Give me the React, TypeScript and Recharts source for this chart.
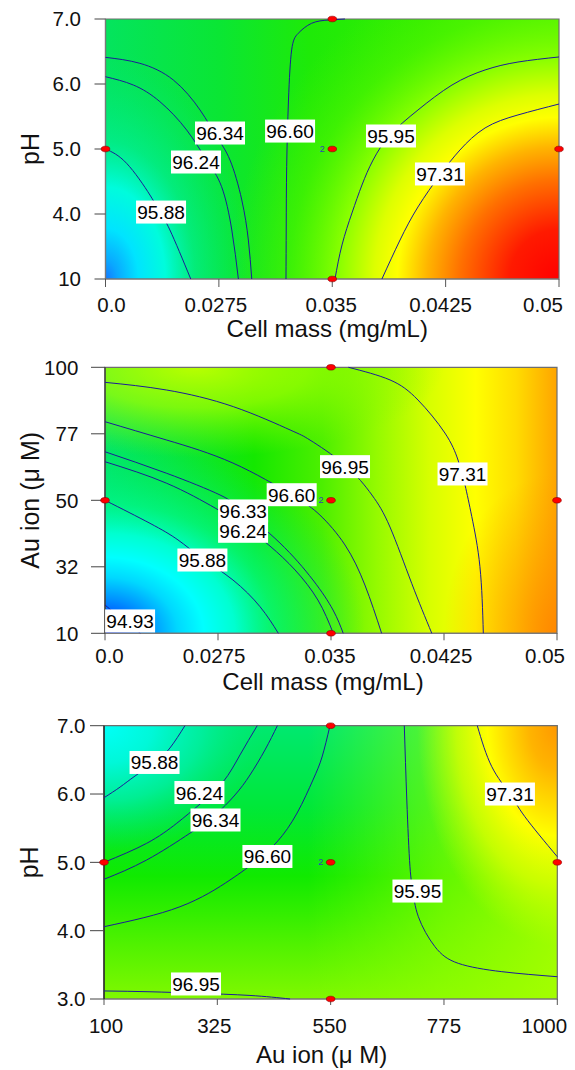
import React from 'react';
import { ScatterChart, Scatter, XAxis, YAxis, ReferenceArea } from 'recharts';

// factors are plotted in coded units (-1 .. 1); tick labels are the printed levels
const codedTicks = [-1, -0.5, 0, 0.5, 1];
const cellMassLabels = ['0.0', '0.0275', '0.035', '0.0425', '0.05'];
const phLabelsTop = ['10', '4.0', '5.0', '6.0', '7.0'];
const auLabelsY = ['10', '32', '50', '77', '100'];
const auLabelsX = ['100', '325', '550', '775', '1000'];
const phLabels = ['3.0', '4.0', '5.0', '6.0', '7.0'];

// design points, n = replicates at the centre
const designPts = [
  { x: -1, y: 0 },
  { x: 0, y: 1 },
  { x: 0, y: 0, n: '2' },
  { x: 0, y: -1 },
  { x: 1, y: 0 },
];

type Pt = [number, number];

// panel 1: cell mass (x) vs pH (y)
const p1c9588: Pt[] = [[-1, 0], [-0.907, -0.11], [-0.804, -0.354], [-0.76, -0.485], [-0.716, -0.623], [-0.624, -1]];
const p1c9624: Pt[] = [[-1, 0.556], [-0.877, 0.492], [-0.76, 0.364], [-0.642, 0.146], [-0.554, -0.085], [-0.488, -0.29], [-0.443, -0.623], [-0.414, -1]];
const p1c9634: Pt[] = [[-1, 0.705], [-0.848, 0.659], [-0.701, 0.531], [-0.583, 0.3], [-0.51, 0.095], [-0.451, -0.085], [-0.399, -0.392], [-0.37, -0.7], [-0.355, -1]];
const p1c9660: Pt[] = [[-0.204, -1], [-0.203, -0.6], [-0.201, -0.136], [-0.193, 0.377], [-0.179, 0.762], [-0.15, 0.89], [-0.091, 0.967], [-0.017, 0.992], [0.056, 1]];
const p1c9595: Pt[] = [[0.012, -1], [0.043, -0.738], [0.087, -0.492], [0.131, -0.277], [0.18, -0.085], [0.255, 0.108], [0.378, 0.3], [0.528, 0.492], [0.674, 0.608], [0.819, 0.669], [1, 0.708]];
const p1c9731: Pt[] = [[0.219, -1], [0.299, -0.7], [0.378, -0.446], [0.475, -0.2], [0.563, -0.008], [0.674, 0.162], [0.819, 0.262], [1, 0.346]];
const p1Labels = [
  { x: -0.755, y: -0.485, v: '95.88' },
  { x: -0.601, y: -0.1, v: '96.24' },
  { x: -0.495, y: 0.123, v: '96.34' },
  { x: -0.186, y: 0.138, v: '96.60' },
  { x: 0.259, y: 0.1, v: '95.95' },
  { x: 0.475, y: -0.192, v: '97.31' },
];

// panel 2: cell mass (x) vs Au ion (y)
const p2c9695: Pt[] = [[-1, 0.887], [-0.727, 0.829], [-0.432, 0.704], [-0.181, 0.529], [-0.093, 0.453], [0.062, 0.265], [0.181, 0.04], [0.261, -0.201], [0.357, -0.624], [0.446, -1]];
const p2c9731: Pt[] = [[0.077, 1], [0.261, 0.905], [0.385, 0.754], [0.504, 0.506], [0.562, 0.303], [0.593, 0.115], [0.623, -0.123], [0.659, -0.499], [0.674, -1]];
const p2c9660: Pt[] = [[-1, 0.591], [-0.727, 0.453], [-0.434, 0.28], [-0.173, 0.04], [-0.049, -0.111], [0.062, -0.336], [0.15, -0.637], [0.224, -1]];
const p2c9633: Pt[] = [[-1, 0.365], [-0.727, 0.203], [-0.491, 0.04], [-0.389, -0.08], [-0.226, -0.321], [-0.08, -0.599], [0.009, -0.825], [0.054, -1]];
const p2c9624: Pt[] = [[-1, 0.29], [-0.727, 0.128], [-0.513, -0.058], [-0.389, -0.186], [-0.27, -0.344], [-0.159, -0.524], [-0.058, -0.75], [0.01, -1]];
const p2c9588: Pt[] = [[-1, 0], [-0.801, -0.173], [-0.677, -0.298], [-0.571, -0.434], [-0.434, -0.599], [-0.314, -0.8], [-0.233, -1]];
const p2c9493: Pt[] = [[-1, -0.787], [-0.956, -0.847], [-0.898, -0.915], [-0.845, -1]];
const p2Labels = [
  { x: 0.062, y: 0.253, v: '96.95' },
  { x: 0.582, y: 0.198, v: '97.31' },
  { x: -0.174, y: 0.042, v: '96.60' },
  { x: -0.389, y: -0.08, v: '96.33' },
  { x: -0.389, y: -0.233, v: '96.24' },
  { x: -0.569, y: -0.449, v: '95.88' },
  { x: -0.889, y: -0.907, v: '94.93' },
];

// panel 3: Au ion (x) vs pH (y)
const p3c9588: Pt[] = [[-1, 0.473], [-0.929, 0.551], [-0.863, 0.632], [-0.775, 0.734], [-0.709, 0.837], [-0.643, 1]];
const p3c9624: Pt[] = [[-1, 0], [-0.812, 0.139], [-0.679, 0.286], [-0.576, 0.427], [-0.475, 0.588], [-0.4, 0.786], [-0.324, 1]];
const p3c9634: Pt[] = [[-1, -0.124], [-0.812, 0.017], [-0.621, 0.213], [-0.51, 0.347], [-0.422, 0.493], [-0.356, 0.639], [-0.29, 0.822], [-0.235, 1]];
const p3c9660: Pt[] = [[-1, -0.471], [-0.665, -0.325], [-0.444, -0.129], [-0.334, 0.003], [-0.237, 0.149], [-0.148, 0.361], [-0.078, 0.603], [-0.038, 0.771], [-0.003, 1]];
const p3c9695: Pt[] = [[-1, -0.941], [-0.797, -0.947], [-0.591, -0.958], [-0.356, -0.974], [-0.179, -1]];
const p3c9595: Pt[] = [[0.325, 1], [0.336, 0.456], [0.35, -0.032], [0.363, -0.21], [0.387, -0.398], [0.46, -0.617], [0.563, -0.739], [0.755, -0.8], [1, -0.837]];
const p3c9731: Pt[] = [[0.647, 1], [0.711, 0.7], [0.791, 0.5], [0.857, 0.334], [1, 0.041]];
const p3Labels = [
  { x: -0.777, y: 0.731, v: '95.88' },
  { x: -0.579, y: 0.511, v: '96.24' },
  { x: -0.508, y: 0.31, v: '96.34' },
  { x: -0.279, y: 0.043, v: '96.60' },
  { x: -0.594, y: -0.89, v: '96.95' },
  { x: 0.383, y: -0.21, v: '95.95' },
  { x: 0.791, y: 0.5, v: '97.31' },
];

const LINE = '#1c1c98';
const toPts = (c: Pt[]) => c.map(([x, y]) => ({ x, y }));
const idx = (v: number) => Math.round((v + 1) * 2);

const LabelBox = (p: any) => (
  <g>
    <rect x={p.cx - 25} y={p.cy - 11.5} width={50} height={23} fill="#fff" />
    <text x={p.cx} y={p.cy + 7} textAnchor="middle" fontSize={19} fill="#000">
      {p.payload.v}
    </text>
  </g>
);

const DesignDot = (p: any) => (
  <g>
    <ellipse cx={p.cx} cy={p.cy} rx={4.3} ry={2.8} fill="#ff0000" stroke="#8a0000" strokeWidth={0.6} />
    {p.payload.n ? (
      <text x={p.cx - 10} y={p.cy + 3} textAnchor="middle" fontSize={9} fill="#2f44b8">
        {p.payload.n}
      </text>
    ) : null}
  </g>
);

type PanelProps = {
  top: number;
  height: number;
  margin: { top: number; right: number; bottom: number; left: number };
  defs: React.ReactNode;
  fills: string[];
  contours: Pt[][];
  labels: { x: number; y: number; v: string }[];
  xLabels: string[];
  yLabels: string[];
  xTitle: string;
  yTitle: string;
  xDx: number[];
  xTickSize: number;
  xTickMargin: number;
  yTickSize: number;
  yTickMargin: number;
  xTitleOffset: number;
  xTitleDx: number;
  yTitleDx: number;
  yAxisColor: string;
};

const Panel = (pp: PanelProps) => (
  <div style={{ position: 'absolute', left: 0, top: pp.top }}>
    <ScatterChart width={575} height={pp.height} margin={pp.margin}>
      {pp.defs}
      {pp.fills.map((id) => (
        <ReferenceArea key={id} x1={-1} x2={1} y1={-1} y2={1} fill={`url(#${id})`} fillOpacity={1} stroke="none" />
      ))}
      <ReferenceArea x1={-1} x2={1} y1={-1} y2={1} fill="none" fillOpacity={0} stroke="#6e6e6e" strokeWidth={1.2} />
      <XAxis
        type="number"
        dataKey="x"
        domain={[-1, 1]}
        ticks={codedTicks}
        interval={0}
        height={70}
        tickSize={pp.xTickSize}
        tickMargin={pp.xTickMargin}
        axisLine={{ stroke: '#7a7a7a', strokeWidth: 1.2 }}
        tickLine={{ stroke: '#555' }}
        tick={(t: any) => (
          <text
            x={t.x + pp.xDx[idx(t.payload.value)]}
            y={t.y}
            dy="0.71em"
            textAnchor="middle"
            fontSize={20.5}
            fill="#111"
          >
            {pp.xLabels[idx(t.payload.value)]}
          </text>
        )}
        label={{ value: pp.xTitle, position: 'insideBottom', offset: pp.xTitleOffset, dx: pp.xTitleDx, fontSize: 24, fill: '#111' }}
      />
      <YAxis
        type="number"
        dataKey="y"
        domain={[-1, 1]}
        ticks={codedTicks}
        interval={0}
        width={100}
        tickSize={pp.yTickSize}
        tickMargin={pp.yTickMargin}
        axisLine={{ stroke: pp.yAxisColor, strokeWidth: 1.2 }}
        tickLine={{ stroke: '#444' }}
        tick={{ fontSize: 20.5, fill: '#111' }}
        tickFormatter={(v: number) => pp.yLabels[idx(v)]}
        label={{ value: pp.yTitle, angle: -90, position: 'center', dx: pp.yTitleDx, fontSize: 25, fill: '#111' }}
      />
      {pp.contours.map((c, i) => (
        <Scatter
          key={i}
          data={toPts(c)}
          line={{ stroke: LINE, strokeWidth: 1 }}
          lineJointType="natural"
          shape={() => <g />}
          isAnimationActive={false}
        />
      ))}
      <Scatter data={pp.labels} shape={LabelBox} isAnimationActive={false} />
      <Scatter data={designPts} shape={DesignDot} isAnimationActive={false} />
    </ScatterChart>
  </div>
);

const defs1 = (
  <defs>
    <linearGradient id="p1base" x1="0" y1="0" x2="1" y2="0">
      <stop offset="0" stopColor="#04e45e" />
      <stop offset="0.25" stopColor="#0ae634" />
      <stop offset="0.45" stopColor="#1eea08" />
      <stop offset="0.7" stopColor="#34ee00" />
      <stop offset="1" stopColor="#5cf400" />
    </linearGradient>
    <radialGradient id="p1bl" cx="0" cy="1" r="1" gradientTransform="translate(0,1) scale(0.33,0.885) translate(0,-1)">
      <stop offset="0" stopColor="#1478ff" />
      <stop offset="0.08" stopColor="#0aa8ff" />
      <stop offset="0.22" stopColor="#00e4ff" />
      <stop offset="0.4" stopColor="#00fcdc" />
      <stop offset="0.6" stopColor="#00f0a0" stopOpacity={0.6} />
      <stop offset="1" stopColor="#00e870" stopOpacity={0} />
    </radialGradient>
    <radialGradient id="p1br" cx="1" cy="1" r="1" gradientTransform="translate(1,1) scale(0.727,1.269) translate(-1,-1)">
      <stop offset="0" stopColor="#ff0000" />
      <stop offset="0.15" stopColor="#ff1a00" />
      <stop offset="0.3" stopColor="#ff7000" />
      <stop offset="0.4" stopColor="#ffb400" />
      <stop offset="0.49" stopColor="#ffff00" />
      <stop offset="0.56" stopColor="#ddff00" />
      <stop offset="0.67" stopColor="#88ff00" />
      <stop offset="0.82" stopColor="#50f500" stopOpacity={0.6} />
      <stop offset="1" stopColor="#40f000" stopOpacity={0} />
    </radialGradient>
  </defs>
);

const defs2 = (
  <defs>
    <linearGradient id="p2base" x1="0" y1="0" x2="1" y2="0">
      <stop offset="0" stopColor="#00e46a" />
      <stop offset="0.33" stopColor="#14e800" />
      <stop offset="0.48" stopColor="#4cef00" />
      <stop offset="0.6" stopColor="#94fa00" />
      <stop offset="0.72" stopColor="#d8ff00" />
      <stop offset="0.82" stopColor="#ffff00" />
      <stop offset="0.91" stopColor="#ffdc00" />
      <stop offset="1" stopColor="#ffa400" />
    </linearGradient>
    <radialGradient id="p2tl" cx="0.2" cy="0" r="1" gradientTransform="translate(0.2,0) scale(0.55,0.34) translate(-0.2,0)">
      <stop offset="0" stopColor="#b8ff00" />
      <stop offset="0.45" stopColor="#a0ff00" stopOpacity={0.75} />
      <stop offset="1" stopColor="#80f800" stopOpacity={0} />
    </radialGradient>
    <radialGradient id="p2bl" cx="0" cy="1" r="1" gradientTransform="translate(0,1) scale(0.575,0.752) translate(0,-1)">
      <stop offset="0" stopColor="#0028ff" />
      <stop offset="0.08" stopColor="#0050ff" />
      <stop offset="0.17" stopColor="#0090ff" />
      <stop offset="0.28" stopColor="#00d8ff" />
      <stop offset="0.38" stopColor="#00ffff" />
      <stop offset="0.5" stopColor="#00ffd0" />
      <stop offset="0.65" stopColor="#00f890" stopOpacity={0.7} />
      <stop offset="1" stopColor="#00e860" stopOpacity={0} />
    </radialGradient>
    <radialGradient id="p2br" cx="1" cy="1" r="1" gradientTransform="translate(1,1) scale(0.25,0.6) translate(-1,-1)">
      <stop offset="0" stopColor="#ff8000" stopOpacity={0.8} />
      <stop offset="1" stopColor="#ff9000" stopOpacity={0} />
    </radialGradient>
  </defs>
);

const defs3 = (
  <defs>
    <linearGradient id="p3base" x1="0" y1="0" x2="0" y2="1">
      <stop offset="0" stopColor="#00e870" />
      <stop offset="0.3" stopColor="#00e838" />
      <stop offset="0.55" stopColor="#10ea00" />
      <stop offset="0.8" stopColor="#50f200" />
      <stop offset="1" stopColor="#80f800" />
    </linearGradient>
    <linearGradient id="p3right" x1="0" y1="0" x2="1" y2="0">
      <stop offset="0.45" stopColor="#8cff00" stopOpacity={0} />
      <stop offset="0.75" stopColor="#98ff00" stopOpacity={0.6} />
      <stop offset="1" stopColor="#a8ff00" stopOpacity={0.9} />
    </linearGradient>
    <radialGradient id="p3tl" cx="0" cy="0" r="1" gradientTransform="scale(0.36,0.46)">
      <stop offset="0" stopColor="#00fff8" />
      <stop offset="0.3" stopColor="#00f8d8" />
      <stop offset="0.6" stopColor="#00f0a8" stopOpacity={0.8} />
      <stop offset="1" stopColor="#00e870" stopOpacity={0} />
    </radialGradient>
    <radialGradient id="p3tr" cx="1" cy="0" r="1" gradientTransform="translate(1,0) scale(0.309,0.805) translate(-1,0)">
      <stop offset="0" stopColor="#ff9800" />
      <stop offset="0.2" stopColor="#ffb400" />
      <stop offset="0.38" stopColor="#ffe000" />
      <stop offset="0.5" stopColor="#ffff00" />
      <stop offset="0.72" stopColor="#d8ff00" stopOpacity={0.8} />
      <stop offset="1" stopColor="#c0ff00" stopOpacity={0} />
    </radialGradient>
  </defs>
);

export default function App() {
  return (
    <div
      style={{
        position: 'absolute',
        left: 0,
        top: 0,
        width: 575,
        height: 1070,
        background: '#fff',
        fontFamily: '"Liberation Sans", Arial, sans-serif',
      }}
    >
      <Panel
        top={0}
        height={350}
        margin={{ top: 19, right: 16, bottom: 1, left: 5.5 }}
        defs={defs1}
        fills={['p1base', 'p1bl', 'p1br']}
        contours={[p1c9588, p1c9624, p1c9634, p1c9660, p1c9595, p1c9731]}
        labels={p1Labels}
        xLabels={cellMassLabels}
        yLabels={phLabelsTop}
        xTitle="Cell mass (mg/mL)"
        yTitle="pH"
        xDx={[6, -3, -1, -5, -16]}
        xTickSize={8}
        xTickMargin={10.7}
        yTickSize={11}
        yTickMargin={13.5}
        xTitleOffset={12}
        xTitleDx={-5}
        yTitleDx={-25.5}
        yAxisColor="#7a7a7a"
      />
      <Panel
        top={350}
        height={360}
        margin={{ top: 17.3, right: 18, bottom: 6.7, left: 5 }}
        defs={defs2}
        fills={['p2base', 'p2tl', 'p2bl', 'p2br']}
        contours={[p2c9695, p2c9731, p2c9660, p2c9633, p2c9624, p2c9588, p2c9493]}
        labels={p2Labels}
        xLabels={cellMassLabels}
        yLabels={auLabelsY}
        xTitle="Cell mass (mg/mL)"
        yTitle="Au ion (μ M)"
        xDx={[4.5, -4, -1, -3, -12]}
        xTickSize={7}
        xTickMargin={8.4}
        yTickSize={14}
        yTickMargin={12.7}
        xTitleOffset={13.3}
        xTitleDx={-8}
        yTitleDx={-25.3}
        yAxisColor="#333"
      />
      <Panel
        top={710}
        height={360}
        margin={{ top: 15.7, right: 17.7, bottom: 1, left: 4 }}
        defs={defs3}
        fills={['p3base', 'p3right', 'p3tl', 'p3tr']}
        contours={[p3c9588, p3c9624, p3c9634, p3c9660, p3c9695, p3c9595, p3c9731]}
        labels={p3Labels}
        xLabels={auLabelsX}
        yLabels={phLabels}
        xTitle="Au ion (μ M)"
        yTitle="pH"
        xDx={[2, -3, -1, 0, -13]}
        xTickSize={6}
        xTickMargin={13.7}
        yTickSize={14}
        yTickMargin={4.5}
        xTitleOffset={6.3}
        xTitleDx={-9}
        yTitleDx={-25}
        yAxisColor="#111"
      />
    </div>
  );
}
